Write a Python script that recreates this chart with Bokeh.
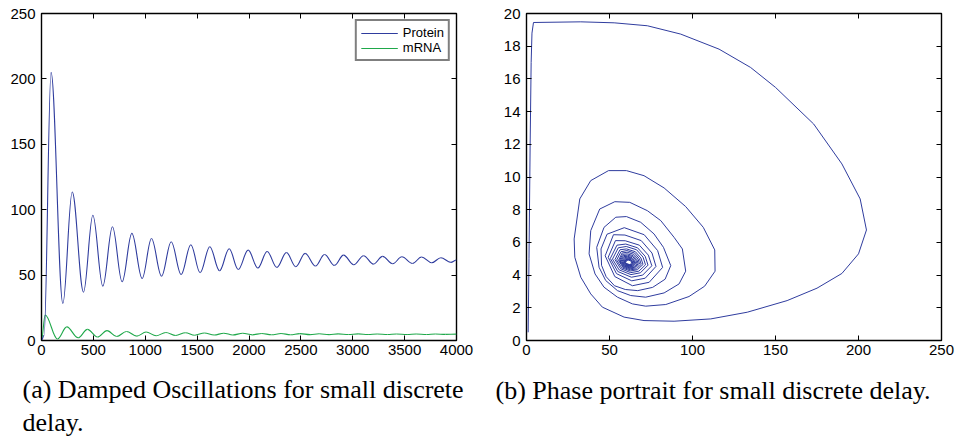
import numpy as np
from bokeh.plotting import figure
from bokeh.models import (ColumnDataSource, LinearAxis, FixedTicker, Title,
                          Legend, LegendItem)
from bokeh.layouts import row
from bokeh.embed import file_html
from bokeh.resources import INLINE

# ---------------- data ----------------
# (a) time series: turning points of each curve (time, value)
protein_t = [0, 25, 92, 206, 296, 405, 495, 591, 684, 777, 871, 970, 1060, 1157,
             1250, 1346, 1439, 1529, 1622, 1716, 1809, 1896, 1992, 2085, 2175,
             2268, 2361, 2451, 2541, 2641, 2728, 2824, 2911, 3010, 3104, 3200,
             3287, 3386, 3473, 3576, 3663, 3762, 3849, 3945, 4000]
protein_v = [0, 4, 205, 28.3, 113.5, 37, 95.7, 41.6, 87, 44.9, 81.9, 47.4, 78,
             49.2, 75.5, 50.5, 73.2, 51.8, 71.7, 53.3, 70.2, 54.3, 69.1, 55.4,
             68.1, 55.9, 67.3, 56.4, 66.6, 56.9, 65.8, 57.4, 65.3, 57.9, 64.8,
             58.4, 64.3, 58.7, 64.0, 58.9, 63.8, 59.4, 63.3, 59.7, 61.5]

mrna_t = [0, 35, 154, 244, 353, 443, 539, 632, 725, 819, 918, 1008, 1105, 1198,
          1294, 1387, 1477, 1570, 1664, 1757, 1844, 1940, 2033, 2123, 2216, 2309,
          2399, 2489, 2589, 2676, 2772, 2859, 2958, 3052, 3148, 3235, 3334, 3421,
          3524, 3611, 3710, 3797, 3893, 4000]
mrna_v = [0, 19.5, 1.2, 10.4, 2.1, 8.5, 2.65, 7.58, 3.05, 6.9, 3.35, 6.45, 3.65,
          6.1, 3.87, 5.9, 4.03, 5.75, 4.15, 5.6, 4.25, 5.5, 4.32, 5.4, 4.38, 5.3,
          4.43, 5.22, 4.47, 5.15, 4.51, 5.1, 4.54, 5.05, 4.57, 5.0, 4.59, 4.97,
          4.61, 4.94, 4.63, 4.92, 4.65, 4.85]

# (b) phase portrait vertices: outer loops
phase_outer_protein = [1.0, 1.5, 2.2, 2.8, 3.3, 4.2, 32.7, 52.8, 72.8, 92.9, 116.0,
    135.0, 150.0, 173.0, 190.0, 201.0, 204.8, 200.0, 190.0, 175.0, 157.0, 133.0,
    111.0, 88.9, 70.8, 58.8, 45.7, 38.7, 32.7, 29.1, 28.7, 32.1, 38.7, 49.4, 60.2,
    70.8, 82.9, 95.9, 106.5, 113.4, 113.6, 107.3, 97.9, 83.9, 71.8, 63.8, 54.8,
    46.7, 41.3, 37.7, 38.7, 44.1, 53.2, 62.2, 72.8, 80.9, 88.9, 93.9, 95.9, 91.9,
    82.9, 71.8, 62.8, 54.8, 47.7, 43.7, 42.3, 46.7, 53.8, 60.2, 68.8, 76.8, 82.5,
    86.9, 83.5, 76.0, 67.0, 59.5, 53.0, 48.0, 45.2, 44.9, 48.5]
phase_outer_mrna = [0.5, 5.0, 12.0, 17.0, 18.8, 19.45, 19.49, 19.43, 19.25, 18.74,
    17.82, 16.7, 15.48, 13.24, 10.8, 8.66, 6.76, 5.3, 4.1, 3.2, 2.44, 1.73, 1.32,
    1.18, 1.22, 1.43, 2.04, 2.85, 3.87, 5.09, 6.21, 8.66, 9.78, 10.39, 10.39,
    10.08, 9.33, 8.19, 6.92, 5.54, 4.24, 3.32, 2.69, 2.2, 2.1, 2.24, 2.65, 3.26,
    4.07, 5.3, 6.72, 8.04, 8.49, 8.45, 7.94, 7.33, 6.31, 5.6, 4.24, 3.46, 2.91,
    2.65, 2.75, 3.05, 3.67, 4.48, 5.7, 6.92, 7.54, 7.58, 7.23, 6.52, 5.7, 4.58,
    3.75, 3.25, 3.05, 3.12, 3.35, 3.9, 4.6, 5.6, 6.5]

# (b) phase portrait vertices: inner loops (estimated, dense centre)
phase_inner_protein = [
    58.9, 70.9, 79.0, 82.0, 73.9, 63.8, 53.2, 47.4, 52.4,
    59.3, 69.1, 75.6, 78.0, 71.5, 63.4, 54.2, 49.2, 53.6,
    59.5, 68.0, 73.4, 75.5, 70.0, 63.2, 55.0, 50.5, 54.5,
    59.8, 66.9, 71.5, 73.2, 68.6, 62.9, 55.8, 51.8, 55.3,
    60.1, 66.3, 70.2, 71.7, 67.7, 62.8, 56.7, 53.3, 56.3,
    60.3, 65.6, 68.9, 70.2, 66.8, 62.6, 57.3, 54.3, 56.9,
    60.5, 65.1, 68.0, 69.1, 66.2, 62.5, 58.0, 55.4, 57.6,
    60.6, 64.6, 67.2, 68.1, 65.6, 62.4, 58.3, 55.9, 58.0,
    60.7, 64.3, 66.5, 67.3, 65.1, 62.4, 58.6, 56.4, 58.3,
    60.8, 64.0, 65.9, 66.6, 64.7, 62.3, 58.9, 56.9, 58.6,
    60.9, 63.6, 65.2, 65.8, 64.2, 62.2, 59.2, 57.4, 59.0,
    61.0, 63.4, 64.8, 65.3, 63.9, 62.2, 59.5, 57.9, 59.3,
    61.1, 63.2, 64.4, 64.8, 63.6, 62.1, 59.8, 58.4, 59.6,
    61.2, 62.9, 63.9, 64.3, 63.3, 62.1, 60.0, 58.7, 59.8,
    61.2, 62.8, 63.7, 64.0, 63.1, 62.0, 60.1, 58.9, 59.9,
    61.3, 62.7, 63.5, 63.8, 63.0, 62.0, 60.4, 59.4, 60.2,
    61.4, 62.5, 63.1, 63.3, 62.7, 62.0, 60.5, 59.7, 60.4]
phase_inner_mrna = [
    6.9, 6.47, 5.50, 4.47, 3.56, 3.35, 3.91, 5.18, 6.47,
    6.45, 6.11, 5.35, 4.53, 3.81, 3.65, 4.09, 5.09, 6.11,
    6.1, 5.83, 5.22, 4.57, 4.0, 3.87, 4.22, 5.02, 5.83,
    5.9, 5.67, 5.15, 4.61, 4.14, 4.03, 4.32, 4.98, 5.67,
    5.75, 5.55, 5.10, 4.63, 4.24, 4.15, 4.39, 4.95, 5.55,
    5.6, 5.43, 5.05, 4.65, 4.33, 4.25, 4.45, 4.92, 5.43,
    5.5, 5.35, 5.01, 4.66, 4.38, 4.32, 4.49, 4.90, 5.35,
    5.4, 5.27, 4.98, 4.68, 4.44, 4.38, 4.53, 4.88, 5.27,
    5.3, 5.19, 4.94, 4.69, 4.48, 4.43, 4.56, 4.86, 5.19,
    5.22, 5.13, 4.91, 4.69, 4.51, 4.47, 4.58, 4.84, 5.13,
    5.15, 5.07, 4.89, 4.70, 4.55, 4.51, 4.61, 4.83, 5.07,
    5.1, 5.03, 4.87, 4.71, 4.57, 4.54, 4.62, 4.82, 5.03,
    5.05, 4.99, 4.86, 4.71, 4.60, 4.57, 4.64, 4.81, 4.99,
    5.0, 4.95, 4.84, 4.72, 4.61, 4.59, 4.65, 4.80, 4.95,
    4.97, 4.93, 4.83, 4.72, 4.63, 4.61, 4.67, 4.79, 4.93,
    4.94, 4.90, 4.82, 4.73, 4.65, 4.63, 4.68, 4.79, 4.90,
    4.92, 4.89, 4.81, 4.73, 4.67, 4.65, 4.69, 4.78, 4.89]

left_xticks = [0, 500, 1000, 1500, 2000, 2500, 3000, 3500, 4000]
left_yticks = [0, 50, 100, 150, 200, 250]
right_xticks = [0, 50, 100, 150, 200, 250]
right_yticks = [0, 2, 4, 6, 8, 10, 12, 14, 16, 18, 20]

caption_a = "(a) Damped Oscillations for small discrete\ndelay."
caption_b = "(b) Phase portrait for small discrete delay."

# ---------------- styling ----------------
BLUE = "#2F3C9E"
GREEN = "#1FA84A"
TICK_FONT = "Liberation Sans"
CAP_FONT = "'Liberation Serif', 'DejaVu Serif', serif"


def bezier_source(t, v):
    t = np.asarray(t, float)
    v = np.asarray(v, float)
    dt = np.diff(t)
    k = 0.3634
    return ColumnDataSource(dict(x0=t[:-1], y0=v[:-1], x1=t[1:], y1=v[1:],
                                 cx0=t[:-1] + k * dt, cy0=v[:-1],
                                 cx1=t[1:] - k * dt, cy1=v[1:]))


def style(p, xticks, yticks):
    p.xgrid.visible = False
    p.ygrid.visible = False
    p.outline_line_color = "black"
    p.outline_line_width = 1.4
    p.outline_line_alpha = 1.0
    p.background_fill_color = "white"
    p.border_fill_color = "white"
    top = LinearAxis()
    right = LinearAxis()
    p.add_layout(top, "above")
    p.add_layout(right, "right")
    for ax in p.xaxis:
        ax.ticker = FixedTicker(ticks=xticks)
    for ax in p.yaxis:
        ax.ticker = FixedTicker(ticks=yticks)
    for ax in p.axis:
        ax.axis_line_color = None
        ax.major_tick_in = 5
        ax.major_tick_out = 0
        ax.major_tick_line_color = "black"
        ax.major_tick_line_width = 1
        ax.minor_tick_line_color = None
        ax.major_label_text_font = TICK_FONT
        ax.major_label_text_font_size = "15px"
        ax.major_label_text_color = "black"
    for ax in (top, right):
        ax.major_label_text_color = None
        ax.major_label_text_font_size = "1px"
        ax.major_label_standoff = 0
    p.below[0].major_label_standoff = 4
    p.left[0].major_label_standoff = 6


def caption(p, text, offset, standoff):
    p.add_layout(Title(text=text, align="left", offset=offset, standoff=standoff,
                       text_font=CAP_FONT, text_font_size="26px",
                       text_font_style="normal", text_color="black",
                       text_line_height=1.15), "below")


# ---------------- (a) time series ----------------
left = figure(frame_width=415, frame_height=327, x_range=(0, 4000), y_range=(0, 250),
              min_border_left=41, min_border_right=24, min_border_top=13,
              min_border_bottom=97, output_backend="svg", toolbar_location=None)
style(left, left_xticks, left_yticks)

r_m = left.bezier(x0="x0", y0="y0", x1="x1", y1="y1", cx0="cx0", cy0="cy0",
                  cx1="cx1", cy1="cy1", source=bezier_source(mrna_t, mrna_v),
                  line_color=GREEN, line_width=1.1)
r_p = left.bezier(x0="x0", y0="y0", x1="x1", y1="y1", cx0="cx0", cy0="cy0",
                  cx1="cx1", cy1="cy1", source=bezier_source(protein_t, protein_v),
                  line_color=BLUE, line_width=1.1)

legend = Legend(items=[LegendItem(label="Protein", renderers=[r_p]),
                       LegendItem(label="mRNA", renderers=[r_m])],
                location="top_right")
legend.margin = 6
legend.padding = 4
legend.spacing = 0
legend.label_standoff = 5
legend.glyph_width = 37
legend.glyph_height = 14
legend.label_height = 14
legend.label_text_font = TICK_FONT
legend.label_text_font_size = "13px"
legend.label_text_color = "black"
legend.border_line_color = "black"
legend.border_line_width = 2
legend.background_fill_color = "white"
legend.background_fill_alpha = 1.0
left.add_layout(legend)

caption(left, caption_a, -19, 32)

# ---------------- (b) phase portrait ----------------
right_fig = figure(frame_width=415, frame_height=327, x_range=(0, 250), y_range=(0, 20),
                   min_border_left=46, min_border_right=16, min_border_top=13,
                   min_border_bottom=97, output_backend="svg", toolbar_location=None)
style(right_fig, right_xticks, right_yticks)

phase_src = ColumnDataSource(dict(
    x=list(phase_outer_protein) + list(phase_inner_protein),
    y=list(phase_outer_mrna) + list(phase_inner_mrna)))
right_fig.line(x="x", y="y", source=phase_src, line_color=BLUE, line_width=1.0)

caption(right_fig, caption_b, -31, 32)

layout = row(left, right_fig)
open("out.html", "w").write(file_html(layout, INLINE))
